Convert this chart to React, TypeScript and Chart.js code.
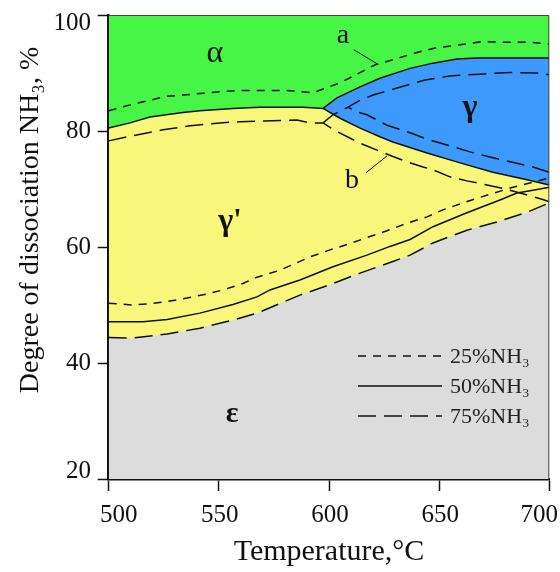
import { useEffect, useRef } from "react";
import { Chart, registerables } from "chart.js";

Chart.register(...registerables);

type P = [number, number];

// ---- axes ----
const X_TICKS = [500, 550, 600, 650, 700];
const Y_TICKS = [20, 40, 60, 80, 100];
const X_TITLE = "Temperature,°C";
const Y_TITLE = "Degree of dissociation NH₃, %";

// ---- phase boundaries (Temperature °C, dissociation %) ----
const PLOT_TOP: P[] = [[500, 100], [700, 100]];

// α / γ' and α / γ boundary, 50% NH3 (top of yellow and blue)
const ALPHA_50: P[] = [
  [500, 80.5], [509.7, 81.4], [518.7, 82.4], [533.7, 83.2], [541.4, 83.5], [556.4, 83.9],
  [568.7, 84.1], [588.2, 84.1], [597.3, 83.9], [603.6, 85.7], [614.1, 87.6], [623.1, 89.1],
  [636.8, 90.8], [647.2, 91.7], [658.1, 92.4], [667.2, 92.6], [682.2, 92.6], [700, 92.6],
];
// γ upper edge (part of ALPHA_50 after the triple point) and lower γ / γ' edge, 50%
const GAMMA_UPPER_50: P[] = [
  [597.3, 83.9], [603.6, 85.7], [614.1, 87.6], [623.1, 89.1], [636.8, 90.8], [647.2, 91.7],
  [658.1, 92.4], [667.2, 92.6], [682.2, 92.6], [700, 92.6],
];
const GAMMA_LOWER_50: P[] = [
  [597.3, 83.9], [605.0, 82.2], [614.1, 80.5], [623.1, 79.0], [629.0, 78.1], [644.5, 76.2],
  [659.5, 74.5], [674.4, 72.9], [689.9, 71.6], [700, 70.7],
];
// γ' / ε boundary 75% (top of grey)
const EPS_75: P[] = [
  [500, 44.4], [511, 44.3], [526.5, 45.0], [541.4, 46.0], [556.4, 47.4], [567.3, 48.6],
  [586.8, 51.7], [601.8, 53.7], [614.1, 55.5], [629.0, 57.5], [636.8, 58.6], [647.2, 60.7],
  [662.6, 62.9], [676.2, 64.3], [689.9, 66.0], [700, 67.6],
];
// γ' / ε boundary 50%
const EPS_50: P[] = [
  [500, 47.1], [515.6, 47.1], [526.5, 47.5], [541.4, 48.6], [556.4, 50.1], [567.3, 51.4],
  [573.2, 52.6], [586.8, 54.3], [601.8, 56.6], [617.2, 58.6], [627.7, 60.1], [636.8, 61.3],
  [647.2, 63.5], [662.6, 65.9], [677.6, 68.1], [685.3, 69.3], [692.6, 69.8], [700, 70.3],
];
// γ' / ε boundary 25%
const EPS_25: P[] = [
  [500, 50.3], [511, 50.0], [518.7, 50.2], [526.5, 50.6], [535.5, 51.2], [544.6, 51.9],
  [551.9, 52.6], [560.9, 53.7], [567.3, 54.8], [577.8, 56.0], [591.4, 58.3], [600.5, 59.5],
  [609.5, 60.6], [618.6, 61.8], [626.3, 62.8], [635.4, 64.1], [644.5, 65.2], [651.7, 66.4],
  [663.1, 67.9], [673.1, 69.1], [683.5, 70.3], [700, 71.9],
];
// α boundary 25% (line "a")
const ALPHA_25: P[] = [
  [500, 83.5], [509.7, 84.5], [526.5, 86.0], [533.7, 86.2], [542.8, 86.5], [551.9, 86.8],
  [559.6, 87.0], [580.9, 87.0], [592.7, 86.6], [605.0, 88.3], [612.7, 89.8], [620.9, 91.4],
  [629.9, 92.4], [639.5, 93.5], [648.1, 94.3], [658.1, 94.8], [669.4, 95.4], [679.9, 95.3],
  [691.2, 95.3], [700, 95.0],
];
// α / γ' boundary 75% continuing as γ' / γ edge (line "b")
const ALPHA_75: P[] = [
  [500, 78.3], [509.7, 79.1], [524.6, 80.2], [536.9, 80.9], [550.5, 81.4], [559.6, 81.6],
  [585.5, 81.9], [591.4, 81.4], [597.3, 81.4], [603.6, 79.9], [614.1, 77.9], [621.8, 76.7],
  [629.0, 75.6], [635.4, 74.7], [642.7, 73.8], [647.2, 73.3], [654.9, 72.1], [662.6, 71.4],
  [671.7, 70.7], [679.0, 70.1], [686.7, 69.3], [697.1, 68.2], [700, 67.8],
];
const LINK_75: P[] = [[597.3, 81.4], [601.8, 82.8], [608.6, 84.1]];
// γ region 75% (inner lens)
const GAMMA_75: P[] = [
  [700, 72.9], [692.6, 73.8], [682.2, 74.7], [673.1, 75.5], [664.0, 76.4], [653.6, 77.6],
  [644.5, 78.6], [636.8, 79.7], [626.3, 81.0], [617.2, 82.8], [612.7, 83.3], [608.6, 84.1],
  [614.1, 85.3], [620.0, 86.2], [630.9, 87.4], [643.6, 88.8], [654.9, 89.5], [668.5, 89.8],
  [682.2, 90.1], [694.4, 90.0], [700, 89.7],
];
const POINTER_A: P[] = [[611.3, 94.0], [621.8, 91.6]];
const POINTER_B: P[] = [[616.8, 72.8], [626.3, 75.7]];

// ---- text ----
const REGION_NAMES = ["α", "γ", "γ'", "ε", "a", "b"];
const REGION_POS: P[] = [[548.2, 93.4], [664.0, 84.0], [555.1, 64.3], [556.0, 31.2], [606.3, 96.5], [610.4, 71.5]];
const REGION_BOLD = [false, true, true, true, false, false];
const REGION_SIZE = [32, 32, 32, 30, 28, 28];
const LEGEND_LABELS = ["25%NH₃", "50%NH₃", "75%NH₃"];

const GREEN = "#46f546";
const YELLOW = "#f9f77b";
const GRAY = "#dcdcdc";
const BLUE = "#3d9afc";
const INK = "#111";
const SHORT = [8, 7];
const LONG = [18, 8];
const FONT = '"Liberation Serif", "Times New Roman", serif';

const pts = (a: P[]) => a.map(([x, y]) => ({ x, y }));

const overlay = {
  id: "overlay",
  afterDatasetsDraw(chart: any) {
    const { ctx, chartArea: ca, scales } = chart;
    const xs = scales.x, ys = scales.y;
    ctx.save();
    // top/right frame
    ctx.strokeStyle = "#444";
    ctx.lineWidth = 1;
    ctx.setLineDash([]);
    ctx.beginPath();
    ctx.moveTo(ca.left, ca.top + 0.5);
    ctx.lineTo(ca.right - 0.5, ca.top + 0.5);
    ctx.lineTo(ca.right - 0.5, ca.bottom);
    ctx.stroke();
    // region labels
    ctx.fillStyle = INK;
    ctx.textAlign = "center";
    ctx.textBaseline = "middle";
    REGION_NAMES.forEach((t, i) => {
      ctx.font = `${REGION_BOLD[i] ? "bold " : ""}${REGION_SIZE[i]}px ${FONT}`;
      ctx.fillText(t, xs.getPixelForValue(REGION_POS[i][0]), ys.getPixelForValue(REGION_POS[i][1]));
    });
    // legend
    const dashes = [SHORT, [], LONG];
    ctx.font = `22px ${FONT}`;
    ctx.textAlign = "left";
    LEGEND_LABELS.forEach((t, i) => {
      const yy = 356 + i * 30;
      ctx.setLineDash(dashes[i]);
      ctx.lineWidth = 1.5;
      ctx.strokeStyle = INK;
      ctx.beginPath();
      ctx.moveTo(358, yy);
      ctx.lineTo(442, yy);
      ctx.stroke();
      ctx.fillStyle = "#222";
      ctx.fillText(t, 450, yy + 1);
    });
    ctx.restore();
  },
  afterDraw(chart: any) {
    const { ctx, scales } = chart;
    const xs = scales.x, ys = scales.y;
    ctx.save();
    ctx.fillStyle = INK;
    ctx.font = `25px ${FONT}`;
    ctx.textBaseline = "middle";
    ctx.textAlign = "right";
    Y_TICKS.forEach((v, i) => {
      const off = i === Y_TICKS.length - 1 ? 8 : i === 0 ? -8 : 0;
      ctx.fillText(String(v), 91, ys.getPixelForValue(v) + off);
    });
    ctx.textAlign = "center";
    X_TICKS.forEach((v, i) => {
      const off = i === 0 ? 10 : i === X_TICKS.length - 1 ? -10 : 1;
      ctx.fillText(String(v), xs.getPixelForValue(v) + off, 515);
    });
    ctx.translate(31, 220);
    ctx.rotate(-Math.PI / 2);
    ctx.font = `28px ${FONT}`;
    ctx.fillText(Y_TITLE, 0, 0);
    ctx.restore();
  },
};

export default function App() {
  const ref = useRef<HTMLCanvasElement>(null);
  useEffect(() => {
    document.body.style.margin = "0";
    const base = { pointRadius: 0, tension: 0, borderWidth: 1.5, borderColor: INK, fill: false };
    const area = (data: P[], fill: any, color: string, order: number) => ({
      ...base, data: pts(data), fill, backgroundColor: color, borderColor: "rgba(0,0,0,0)", order,
    });
    const ln = (data: P[], dash: number[], extra: any = {}) => ({
      ...base, data: pts(data), borderDash: dash, order: 1, ...extra,
    });
    const gammaShape = [...GAMMA_UPPER_50, ...GAMMA_LOWER_50.slice().reverse()];
    const chart = new Chart(ref.current!, {
      type: "line",
      data: {
        datasets: [
          area(PLOT_TOP, "start", YELLOW, 10),
          area(ALPHA_50, "end", GREEN, 9),
          area(EPS_75, "start", GRAY, 8),
          area(gammaShape, "shape", BLUE, 7),
          ln(ALPHA_50, []),
          ln(GAMMA_LOWER_50, []),
          ln(EPS_50, []),
          ln(EPS_75, LONG),
          ln(ALPHA_75, LONG),
          ln(LINK_75, LONG),
          ln(GAMMA_75, LONG),
          ln(ALPHA_25, SHORT),
          ln(EPS_25, SHORT),
          ln(POINTER_A, [], { borderWidth: 1 }),
          ln(POINTER_B, [], { borderWidth: 1 }),
        ] as any,
      },
      options: {
        responsive: false,
        animation: false,
        devicePixelRatio: 1,
        layout: { padding: { top: 15, right: 10.7, left: 0, bottom: 0 } },
        plugins: { legend: { display: false }, tooltip: { enabled: false } },
        scales: {
          x: {
            type: "linear",
            min: 500,
            max: 700,
            z: 1,
            afterBuildTicks: (s: any) => { s.ticks = X_TICKS.map((v) => ({ value: v })); },
            afterFit: (s: any) => { s.height = 93; },
            ticks: { display: false },
            grid: { drawOnChartArea: false, drawTicks: true, tickLength: 12, tickColor: INK, tickWidth: 1.5 },
            border: { display: true, color: INK, width: 2.5 },
            title: {
              display: true,
              text: X_TITLE,
              color: INK,
              font: { family: FONT, size: 30, lineHeight: 1.2 },
              padding: { top: 0, bottom: 2 },
            },
          },
          y: {
            type: "linear",
            min: 20,
            max: 100,
            z: 1,
            afterBuildTicks: (s: any) => { s.ticks = Y_TICKS.map((v) => ({ value: v })); },
            afterFit: (s: any) => { s.width = 108.7; },
            ticks: { display: false },
            grid: { drawOnChartArea: false, drawTicks: true, tickLength: 11, tickColor: INK, tickWidth: 1.5 },
            border: { display: true, color: INK, width: 2.5 },
          },
        },
      },
      plugins: [overlay],
    });
    return () => chart.destroy();
  }, []);
  return (
    <div style={{ width: 560, height: 572 }}>
      <canvas ref={ref} width={560} height={572} style={{ display: "block" }} />
    </div>
  );
}
